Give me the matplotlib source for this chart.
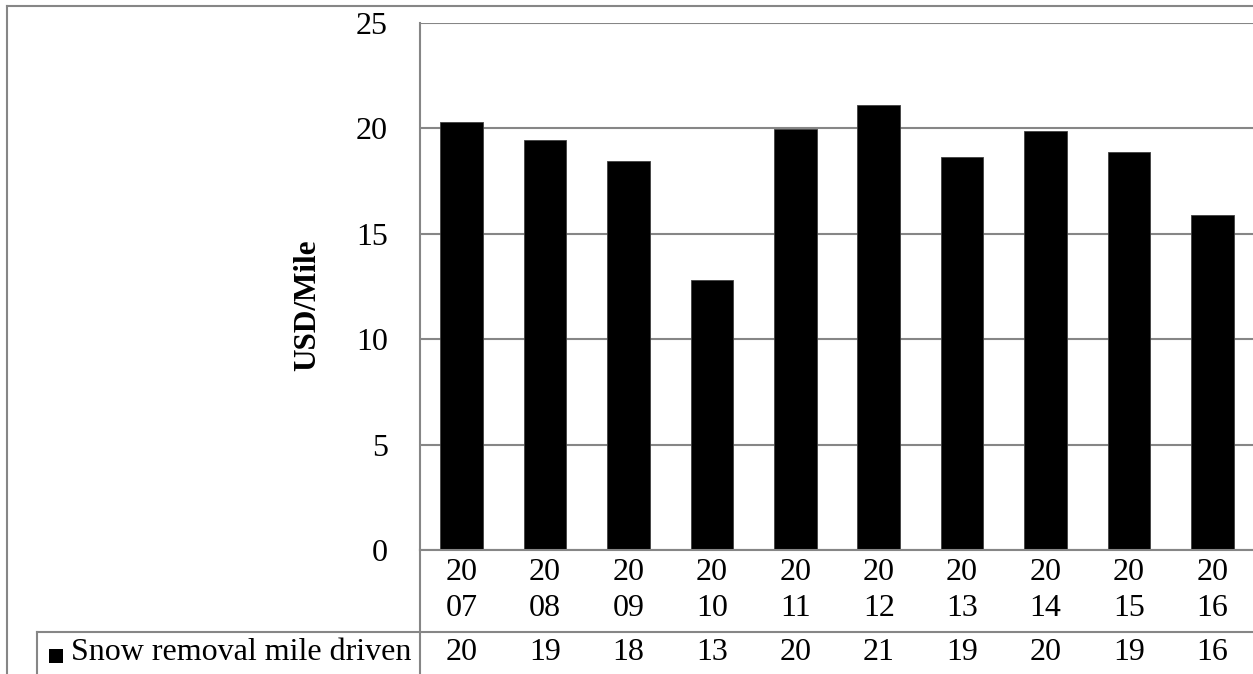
import matplotlib
matplotlib.use("Agg")
import matplotlib.pyplot as plt
from matplotlib.lines import Line2D
from matplotlib.patches import Rectangle
import matplotlib.transforms as mtransforms

years = ["2007", "2008", "2009", "2010", "2011", "2012", "2013", "2014", "2015", "2016"]
values = [20.28, 19.42, 18.44, 12.80, 19.95, 21.10, 18.63, 19.86, 18.86, 15.88]
series_name = "Snow removal mile driven"
y_label = "USD/Mile"
y_ticks = [0, 5, 10, 15, 20, 25]

W, H = 1253, 674
plt.rcParams['font.family'] = ['Liberation Serif', 'DejaVu Serif']
fig = plt.figure(figsize=(W / 100, H / 100), dpi=100)

def fx(px):
    return px / W

def fy(py):
    return 1 - py / H

grid_c = "#868686"
fs = 23

ax = fig.add_axes([fx(420), fy(550), fx(1254) - fx(420), fy(22.7) - fy(550)])
x = list(range(len(years)))
ax.bar(x, values, width=0.51, color="black", edgecolor="#404040", linewidth=0.6, zorder=3)
ax.set_xlim(-0.5, len(years) - 0.5)
ax.set_ylim(0, 25)
ax.set_yticks(y_ticks)
ax.set_yticklabels([str(t) for t in y_ticks], fontsize=fs)
ax.tick_params(axis='y', length=0, pad=23)
ax.set_xticks([])
ax.grid(axis='y', color=grid_c, linewidth=1.5, zorder=0)
for s in ["top", "right", "bottom"]:
    ax.spines[s].set_visible(False)
ax.spines["left"].set_color(grid_c)
ax.spines["left"].set_linewidth(1.5)
ax.set_ylabel(y_label, fontsize=22.5, fontweight='bold')
ax.yaxis.set_label_coords(fx(322), fy(305), transform=fig.transFigure)

# data table below the axes
trans = mtransforms.blended_transform_factory(ax.transData, fig.transFigure)
for i, yr in enumerate(years):
    ax.text(i, fy(572.5), yr[:2], transform=trans, ha='center', va='center', fontsize=fs, clip_on=False)
    ax.text(i, fy(608), yr[2:], transform=trans, ha='center', va='center', fontsize=fs, clip_on=False)
    ax.text(i, fy(653), f"{round(values[i]):d}", transform=trans, ha='center', va='center', fontsize=fs, clip_on=False)

lines = [
    ((fx(420), fx(1253)), (fy(550), fy(550))),   # zero line
    ((fx(37), fx(1253)), (fy(632), fy(632))),    # table row line
    ((fx(420), fx(420)), (fy(550), fy(674))),    # vertical divider
    ((fx(37), fx(37)), (fy(632), fy(674))),      # legend cell left
    ((fx(7), fx(1253)), (fy(5.5), fy(5.5))),     # outer border top
    ((fx(7), fx(7)), (fy(5.5), fy(674))),        # outer border left
]
for xs, ys in lines:
    fig.add_artist(Line2D(xs, ys, transform=fig.transFigure, color=grid_c, linewidth=1.5))

fig.add_artist(Rectangle((fx(49), fy(663)), fx(14), fy(649) - fy(663), transform=fig.transFigure,
                         facecolor="black", edgecolor="none"))
fig.text(fx(71), fy(653), series_name, ha='left', va='center', fontsize=fs)

fig.savefig("out.png", dpi=100)
